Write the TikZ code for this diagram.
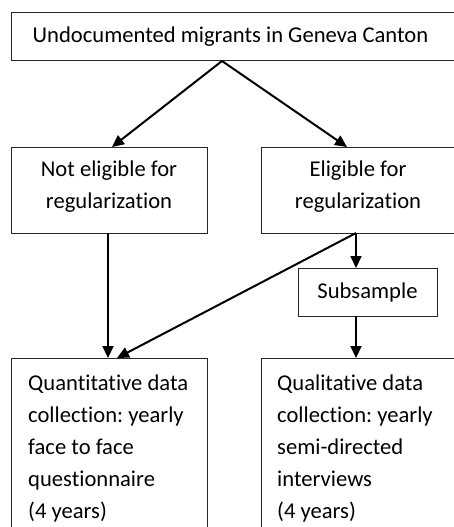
\documentclass[tikz,border=0pt]{standalone}
\usepackage{fontspec}
\setmainfont{Carlito}[Ligatures={NoCommon}]
\usetikzlibrary{arrows.meta,calc}
\frenchspacing
\newcommand{\mainsize}{\fontsize{22.6}{32}\selectfont\frenchspacing}
\tikzset{
  box/.style={draw=black!85, line width=1pt, rectangle, inner sep=0pt, font=\mainsize},
  lbl/.style={inner sep=0pt, align=center, font=\mainsize},
  longlbl/.style={inner sep=0pt, align=flush left, text width=185pt, font=\mainsize, anchor=base west},
  arr/.style={line width=2pt, -{Triangle[length=12pt,width=11pt]}}
}
\begin{document}
\begin{tikzpicture}[x=1pt,y=-1pt]
\useasboundingbox (0,0) rectangle (454,527);
\clip (0,0) rectangle (454,527);
\fill[white] (0,0) rectangle (454,527);
% boxes
\node[box, minimum width=444pt, minimum height=48pt] (top) at (233,37) {\hspace*{-5pt}Undocumented migrants in Geneva Canton};
\node[box, minimum width=196pt, minimum height=86pt] (notelig) at (109,190) {};
\node[lbl] (noteligtext) at (109,187) {Not eligible for\\regularization};
\node[box, minimum width=194pt, minimum height=86pt] (elig) at (358,190) {};
\node[lbl] (eligtext) at (358,187) {Eligible for\\regularization};
\node[box, minimum width=139pt, minimum height=48pt] (sub) at (367.5,292) {Subsample};
\node[box, minimum width=196pt, minimum height=200pt, anchor=north west] (quant) at (11,358) {};
\node[longlbl] (quanttext) at (28,390) {Quantitative data\\collection: yearly\\face to face\\questionnaire\\(4 years)};
\node[box, minimum width=194pt, minimum height=200pt, anchor=north west] (qual) at (261,358) {};
\node[longlbl] (qualtext) at (277,390) {Qualitative data\\collection: yearly\\semi-directed\\interviews\\(4 years)};
% connector points
\coordinate (apex) at (222,61);
\coordinate (nlin) at (112,147);
\coordinate (elin) at (347,147);
\coordinate (nlout) at (108,233);
\coordinate (quantin) at (108,358);
\coordinate (elout) at (356,233);
\coordinate (quantin2) at (117,358);
\coordinate (subin) at (356,268);
\coordinate (subout) at (356,316);
\coordinate (qualin) at (356,358);
% arrows
\draw[arr] (apex) -- (nlin);
\draw[arr] (apex) -- (elin);
\draw[arr] (nlout) -- (quantin);
\draw[arr] (elout) -- (quantin2);
\draw[arr] (elout) -- (subin);
\draw[arr] (subout) -- (qualin);
\end{tikzpicture}
\end{document}
